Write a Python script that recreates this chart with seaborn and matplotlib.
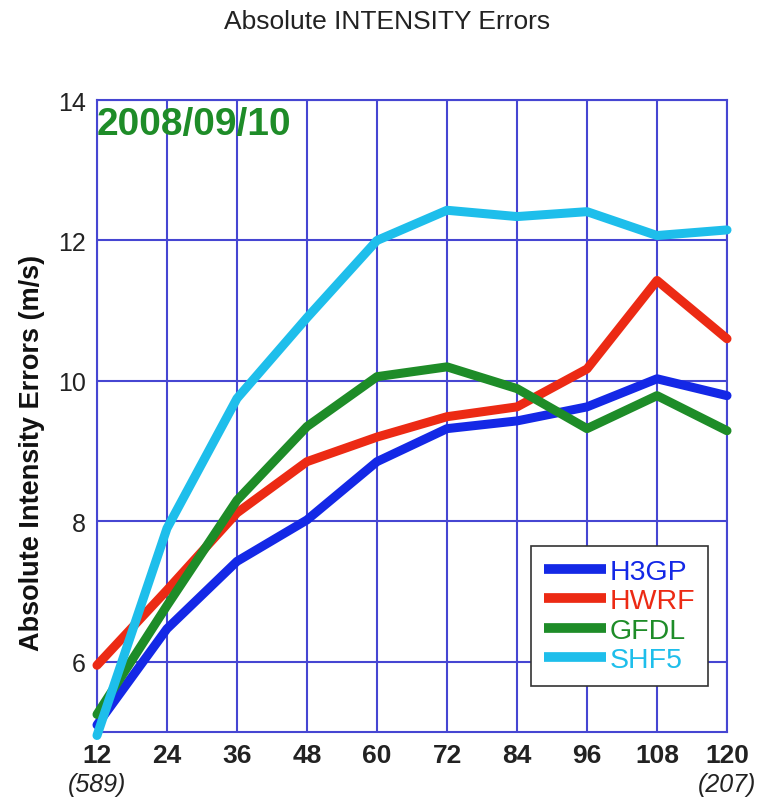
import matplotlib
matplotlib.use("Agg")
import matplotlib.pyplot as plt
import pandas as pd
import seaborn as sns

# Forecast lead times (h) and mean absolute intensity errors (m/s) per model
lead_hours = [12, 24, 36, 48, 60, 72, 84, 96, 108, 120]
models = ["H3GP", "HWRF", "GFDL", "SHF5"]
h3gp = [5.10, 6.47, 7.43, 8.02, 8.85, 9.32, 9.43, 9.63, 10.03, 9.79]
hwrf = [5.95, 7.02, 8.12, 8.85, 9.20, 9.49, 9.63, 10.17, 11.43, 10.60]
gfdl = [5.25, 6.80, 8.30, 9.35, 10.06, 10.20, 9.89, 9.32, 9.79, 9.29]
shf5 = [4.95, 7.90, 9.75, 10.90, 12.00, 12.43, 12.34, 12.41, 12.07, 12.15]
sample_counts = {12: "(589)", 120: "(207)"}
y_ticks = [6, 8, 10, 12, 14]
date_label = "2008/09/10"

colors = {"H3GP": "#1428e6", "HWRF": "#ec2a14", "GFDL": "#1e8c28", "SHF5": "#1ebeeb"}

df = pd.DataFrame({
    "lead": lead_hours * 4,
    "error": h3gp + hwrf + gfdl + shf5,
    "model": [m for m in models for _ in lead_hours],
})

sns.set_theme(style="white")
plt.rcParams["font.family"] = ["Liberation Sans", "DejaVu Sans"]

fig = plt.figure(figsize=(7.74, 8.03), dpi=100)
ax = fig.add_axes([0.1253, 0.0872, 0.8140, 0.7870])

grid_color = "#4646d2"
sns.lineplot(data=df, x="lead", y="error", hue="model", hue_order=models,
             palette=colors, linewidth=6.5, ax=ax, legend=False,
             solid_capstyle="round", solid_joinstyle="round", zorder=3)
for line in ax.get_lines():
    line.set_clip_on(False)

ax.set_xlim(12, 120)
ax.set_ylim(5, 14)
ax.set_xticks(lead_hours)
ax.set_yticks(y_ticks)
ax.grid(True, color=grid_color, linewidth=1.5)
ax.set_axisbelow(True)
for s in ax.spines.values():
    s.set_color(grid_color)
    s.set_linewidth(1.5)
ax.tick_params(axis="both", length=0, colors="#222222")
ax.set_xticklabels([str(v) for v in lead_hours], fontsize=19, fontweight="bold")
ax.set_yticklabels([str(v) for v in y_ticks], fontsize=18)
ax.tick_params(axis="x", pad=8)
ax.tick_params(axis="y", pad=8)
ax.set_xlabel("")
ax.set_ylabel("Absolute Intensity Errors (m/s)", fontsize=19.5, fontweight="bold",
              color="#111111")
ax.yaxis.set_label_coords(-0.083, 0.443)

for lead, txt in sample_counts.items():
    ax.annotate(txt, xy=(lead, 5), xycoords="data", xytext=(0, -29),
                textcoords="offset points", ha="center", va="top",
                fontsize=18, style="italic", color="#222222")

ax.text(0.0, 0.99, date_label, transform=ax.transAxes, ha="left", va="top",
        fontsize=28, fontweight="bold", color="#1e8c28")

fig.text(0.5, 0.972, "Absolute INTENSITY Errors", ha="center", va="center",
         fontsize=19, color="#222222")

handles = [plt.Line2D([], [], color=colors[m], linewidth=7, solid_capstyle="butt")
           for m in models]
leg = ax.legend(handles, models, loc="lower right", bbox_to_anchor=(0.970, 0.073),
                borderaxespad=0, frameon=True, fancybox=False, framealpha=1,
                edgecolor="#333333", handlelength=2.2, handletextpad=0.12,
                labelspacing=0.12, borderpad=0.45, prop={"size": 20.5})
leg.get_frame().set_linewidth(1.2)
for txt, m in zip(leg.get_texts(), models):
    txt.set_color(colors[m])

fig.savefig("out.png", dpi=100, facecolor="white")
